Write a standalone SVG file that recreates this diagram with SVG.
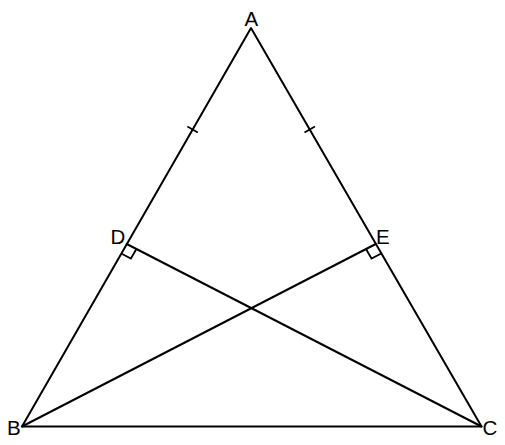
<svg xmlns="http://www.w3.org/2000/svg" width="505" height="445" viewBox="0 0 505 445">
<style>
.ln{stroke:#000;stroke-width:2;fill:none;stroke-linecap:round;stroke-linejoin:round}
.mk{stroke:#000;stroke-width:1.8;fill:none}
.lb{font-family:"Liberation Sans",Arial,sans-serif;font-size:20.5px;fill:#000}
</style>
<rect width="505" height="445" fill="#fff"/>
<g id="connectors">
<polygon class="ln" points="251,28 22,426.5 481.5,426.5"/>
<line class="ln" x1="126.7" y1="244" x2="481.5" y2="426.5"/>
<line class="ln" x1="375.8" y1="244" x2="22" y2="426.5"/>
<line class="mk" x1="187.4" y1="126.5" x2="197.8" y2="132.5"/>
<line class="mk" x1="304.5" y1="132.5" x2="314.9" y2="126.5"/>
<polyline class="mk" points="121.2,253.5 130.9,258.5 136.4,249"/>
<polyline class="mk" points="381.3,253.5 371.5,258.5 366,249"/>
</g>
<g id="A"><text class="lb" x="244.5" y="26">A</text></g>
<g id="B"><text class="lb" x="7" y="434.5">B</text></g>
<g id="C"><text class="lb" x="482.5" y="434.5">C</text></g>
<g id="D"><text class="lb" x="110.5" y="243.5">D</text></g>
<g id="E"><text class="lb" x="376" y="243.5">E</text></g>
</svg>
